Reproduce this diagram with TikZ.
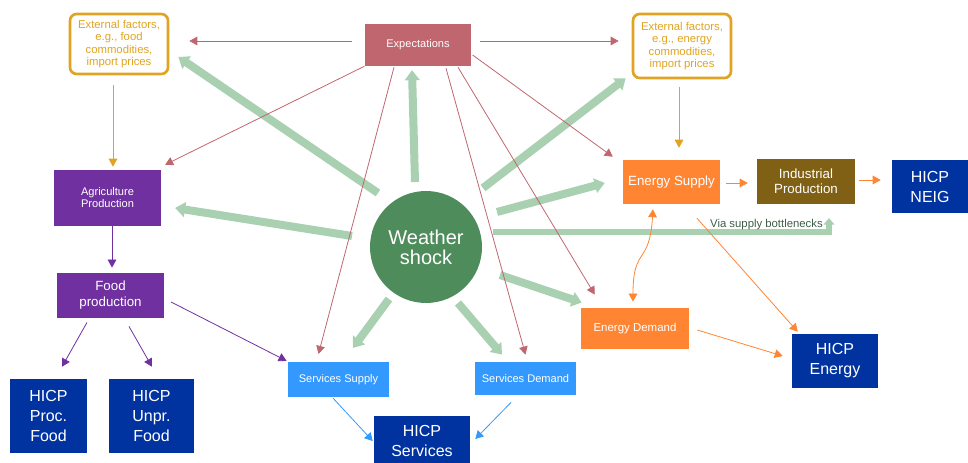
\documentclass[tikz,border=0pt]{standalone}
\usepackage{fontspec}
\setmainfont{Liberation Sans}
\usetikzlibrary{arrows.meta,calc}

\definecolor{extgold}{HTML}{E0A422}
\definecolor{expred}{HTML}{C0666F}
\definecolor{agripurple}{HTML}{7030A0}
\definecolor{hicpblue}{HTML}{0033A0}
\definecolor{servblue}{HTML}{3399FF}
\definecolor{energyorange}{HTML}{FF8533}
\definecolor{indbrown}{HTML}{7F6014}
\definecolor{shockgreen}{HTML}{4F8C5B}
\definecolor{wavegreen}{HTML}{A9D0B0}
\definecolor{notegreen}{HTML}{3E5E48}

\tikzset{
    box/.style={text=white, align=center, inner sep=1pt,
        font=\fontsize{8.3}{9}\selectfont},
    extbox/.style={draw=extgold, line width=2pt, rounded corners=5pt,
        fill=white, text=extgold, align=center, inner sep=1pt,
        font=\fontsize{8.5}{9.2}\selectfont},
    hicpbox/.style={box, fill=hicpblue, font=\fontsize{12}{15}\selectfont},
    thinarrow/.style={line width=0.6pt, -{Triangle[length=6pt,width=6.5pt]}},
    wave/.style={wavegreen, line width=6pt, -{Triangle[length=7.5pt,width=11pt]}},
}

\begin{document}
\begin{tikzpicture}[x=0.75pt,y=-0.75pt]
    % the frame
    \useasboundingbox (0,0) rectangle (968,463);

    % the boxes
    \node[extbox, minimum width=73.5pt, minimum height=45pt] (extfood) at (119,44)
        {External factors,\\e.g., food\\commodities,\\import prices};
    \node[box, fill=expred, minimum width=80pt, minimum height=31.5pt] (expect) at (418,45) {Expectations};
    \node[extbox, minimum width=73.5pt, minimum height=48pt] (extenergy) at (682,46)
        {External factors,\\e.g., energy\\commodities,\\import prices};
    \node[box, fill=agripurple, minimum width=80pt, minimum height=42pt] (agri) at (107.5,198)
        {Agriculture\\Production};
    \node[box, fill=agripurple, minimum width=80pt, minimum height=34pt,
        font=\fontsize{10}{12}\selectfont] (food) at (110.5,295.5) {Food\\production};
    \node[hicpbox, minimum width=58pt, minimum height=55.5pt] (procfood) at (48.5,416)
        {HICP\\Proc.\\Food};
    \node[hicpbox, minimum width=64pt, minimum height=55.5pt] (unprfood) at (151.5,416)
        {HICP\\Unpr.\\Food};
    \node[box, fill=servblue, minimum width=76pt, minimum height=26pt] (servsup) at (338.5,379.5)
        {Services Supply};
    \node[box, fill=servblue, minimum width=76pt, minimum height=25pt] (servdem) at (525.5,378.5)
        {Services Demand};
    \node[hicpbox, minimum width=72pt, minimum height=37.5pt] (hicpserv) at (422,441)
        {HICP\\Services};
    \node[circle, fill=shockgreen, text=white, minimum size=84pt, inner sep=0pt, align=center,
        font=\fontsize{15}{15}\selectfont] (shock) at (426,247) {Weather\\shock};
    \node[box, fill=energyorange, minimum width=72.75pt, minimum height=33pt,
        font=\fontsize{10}{12}\selectfont] (ensup) at (671.5,182) {Energy Supply};
    \node[box, fill=indbrown, minimum width=73.5pt, minimum height=34pt,
        font=\fontsize{10}{11.5}\selectfont] (indprod) at (806,181.5) {Industrial\\Production};
    \node[hicpbox, minimum width=57pt, minimum height=40pt] (neig) at (930,186.5) {HICP\\NEIG};
    \node[box, fill=energyorange, minimum width=81pt, minimum height=31pt,
        font=\fontsize{8.6}{10}\selectfont] (endem) at (635,328.5) {Energy Demand};
    \node[hicpbox, minimum width=64.5pt, minimum height=40.5pt] (hicpen) at (835,361)
        {HICP\\Energy};

    % weather shock arrows
    \draw[wave] ($(shock)+(-48,-54)$) -- ($(extfood.east)+(9,13)$);
    \draw[wave] ($(shock)+(-11,-65)$) -- ($(expect.south)+(-6,4)$);
    \draw[wave] ($(shock)+(-74,-11)$) -- ($(agri.east)+(14,10)$);
    \draw[wave] ($(shock)+(57,-59)$) -- ($(extenergy.south west)+(-6,-1)$);
    \draw[wave] ($(shock)+(71,-35)$) -- ($(ensup.west)+(-18,1)$);
    \draw[wave] ($(shock)+(74,28)$) -- ($(endem.north west)+(1,-5)$);
    \draw[wave] ($(shock)+(-37,52)$) -- ($(servsup.north)+(14.5,-14)$);
    \draw[wave] ($(shock)+(32,56)$) -- ($(servdem.north)+(-23.5,-7)$);
    \coordinate (bottleneck) at (829,218);
    \draw[wavegreen, line width=3.8pt, -{Triangle[length=5pt,width=8pt]}]
        ($(shock)+(67,-15)$) -| (bottleneck);
    \node[anchor=east, text=notegreen, inner sep=0pt, font=\fontsize{8.5}{10}\selectfont]
        (bottlelabel) at ($(bottleneck)+(-6,7)$) {Via supply bottlenecks};

    % expectations
    \draw[thinarrow, expred] ($(expect.west)+(-12,-4)$) -- ($(extfood.east)+(20,-3)$);
    \draw[thinarrow, expred] ($(expect.east)+(8,-4)$) -- ($(extenergy.west)+(-13,-5)$);
    \draw[thinarrow, expred] (expect.south west) -- ($(agri.north east)+(4,-5)$);
    \draw[thinarrow, expred] ($(expect.south)+(-24,1)$) -- ($(servsup.north)+(-20,-8)$);
    \draw[thinarrow, expred] ($(expect.south)+(28,2)$) -- ($(servdem.north)+(0,-7)$);
    \draw[thinarrow, expred] ($(expect.south)+(40,1)$) -- ($(endem.north west)+(14,-13)$);
    \draw[thinarrow, expred] ($(expect.east)+(1,10)$) -- ($(ensup.north west)+(-10,-3)$);

    % external factors
    \draw[thinarrow, extgold] ($(extfood.south)+(-6,10)$) -- ($(agri.north)+(5.5,-3)$);
    \draw[thinarrow, extgold] ($(extenergy.south)+(-3,8)$) -- ($(ensup.north)+(7.5,-12)$);

    % food chain
    \draw[thinarrow, agripurple] ($(agri.south)+(4.5,0)$) -- ($(food.north)+(1.5,-5)$);
    \draw[thinarrow, agripurple] ($(food.south)+(-23.5,4)$) -- ($(procfood.north)+(13.5,-12)$);
    \draw[thinarrow, agripurple] ($(food.south)+(18.5,8)$) -- ($(unprfood.north)+(0.5,-12)$);
    \draw[thinarrow, agripurple] ($(food.east)+(7,6.5)$) -- ($(servsup.north west)+(-1,-1)$);

    % services
    \draw[thinarrow, servblue] ($(servsup.south)+(-5.5,1)$) -- ($(hicpserv.west)+(-1,0)$);
    \draw[thinarrow, servblue] ($(servdem.south)+(-14.5,7)$) -- ($(hicpserv.east)+(5,-2)$);

    % energy
    \draw[thinarrow, energyorange] ($(ensup.east)+(6,1)$) -- ($(indprod.west)+(-9,1.5)$);
    \draw[thinarrow, energyorange] ($(indprod.east)+(4,-1.5)$) -- ($(neig.west)+(-11,-6.5)$);
    \draw[thinarrow, energyorange, {Triangle[length=6pt,width=6.5pt]}-{Triangle[length=6pt,width=6.5pt]}]
        ($(ensup.south)+(-18.5,5)$) .. controls ($(ensup.south)+(-22,62)$) and ($(endem.north)+(-2,-62)$)
        .. ($(endem.north)+(-2,-6)$);
    \draw[thinarrow, energyorange] ($(ensup.south)+(25.5,14)$) -- ($(hicpen.north west)+(6,-2)$);
    \draw[thinarrow, energyorange] ($(endem.east)+(8,1.5)$) -- ($(hicpen.west)+(-9,-5)$);
\end{tikzpicture}
\end{document}
